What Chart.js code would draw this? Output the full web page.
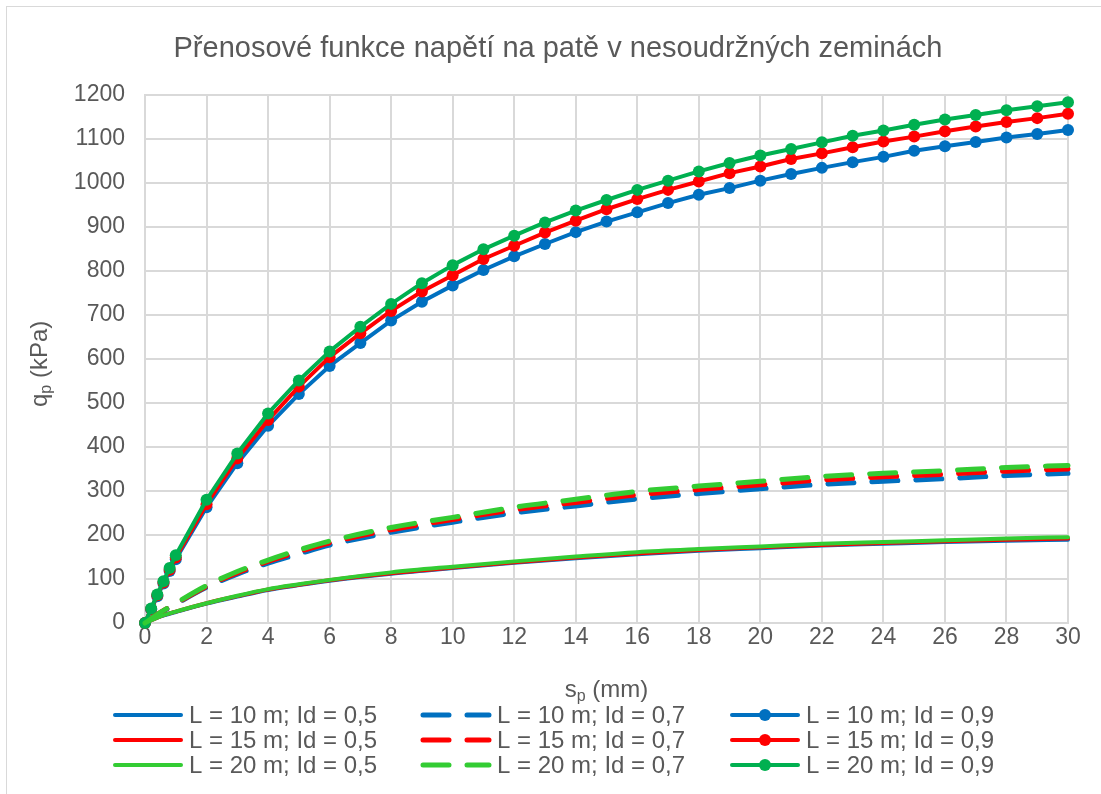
<!DOCTYPE html>
<html>
<head>
<meta charset="utf-8">
<script src="https://cdn.jsdelivr.net/npm/chart.js@4"></script>
<style>
  html, body { margin: 0; padding: 0; background: #fff; overflow: hidden; }
  #frame { position: absolute; left: 6px; top: 6px; width: 1200px; height: 900px; border: 1px solid #d9d9d9; }
  #wrap { position: absolute; left: 0; top: 0; width: 1101px; height: 794px; }
</style>
</head>
<body>
<div id="frame"></div>
<div id="wrap"><canvas id="chart"></canvas></div>
<script>
const titleText = 'Přenosové funkce napětí na patě v nesoudržných zeminách'
const xTitle = ['s', 'p', ' (mm)']
const yTitle = ['q', 'p', ' (kPa)']

// x values of the series with markers (Id = 0,9)
const spMarked = [0, 0.2, 0.4, 0.6, 0.8, 1, 2, 3, 4, 5, 6, 7, 8, 9, 10, 11, 12, 13, 14, 15,
    16, 17, 18, 19, 20, 21, 22, 23, 24, 25, 26, 27, 28, 29, 30]
// x values of the smoothed series (Id = 0,5 and 0,7)
const spSmooth = [0, 0.5, 1, 2, 3, 4, 5, 6, 8, 10, 12, 14, 16, 18, 20, 22, 24, 26, 28, 30]

const L10_05 = [0, 15, 25, 44, 60, 75, 86, 96, 112, 125, 137, 147, 156, 164, 170, 176, 180, 184, 187, 189]
const L15_05 = [0, 15, 26, 45, 61, 76, 87, 97, 113, 126, 138, 149, 158, 166, 172, 177, 182, 186, 189, 192]
const L20_05 = [0, 15, 26, 45, 62, 77, 88, 98, 115, 128, 140, 151, 161, 168, 174, 180, 184, 188, 192, 195]

const L10_07 = [0, 23, 43, 81, 111, 136, 157, 177, 206, 229, 250, 266, 282, 294, 305, 315, 322, 328, 335, 340]
const L15_07 = [0, 24, 44, 83, 114, 140, 162, 182, 212, 235, 257, 274, 291, 303, 314, 325, 332, 338, 345, 350]
const L20_07 = [0, 24, 45, 85, 117, 143, 166, 186, 217, 240, 263, 281, 299, 311, 322, 333, 340, 346, 353, 358]

const L10_09 = [0, 31, 61, 90, 118, 145, 263, 363, 448, 520, 584, 636, 687, 730, 767, 802, 833, 861,
    888, 912, 933, 954, 973, 988, 1005, 1020, 1034, 1047, 1059, 1073, 1083, 1093, 1103, 1111, 1120]
const L15_09 = [0, 32, 63, 92, 121, 149, 270, 374, 461, 537, 604, 658, 709, 753, 790, 827, 857, 887,
    914, 940, 963, 984, 1003, 1022, 1037, 1054, 1067, 1081, 1094, 1105, 1117, 1128, 1138, 1147, 1157]
const L20_09 = [0, 33, 65, 95, 125, 154, 280, 385, 476, 551, 617, 673, 725, 772, 813, 849, 880, 910,
    937, 961, 984, 1005, 1026, 1045, 1062, 1077, 1092, 1107, 1119, 1132, 1144, 1154, 1165, 1174, 1183]

const FONT = '"Liberation Sans", Arial, sans-serif'
const TEXT = '#595959'
const GRID = '#d9d9d9'
const BLUE = '#0070c0'
const RED = '#ff0000'
const LIGHTGREEN = '#33cc33'
const GREEN = '#00b050'

const pts = (xs, ys) => xs.map((x, i) => ({ x: x, y: ys[i] }))

// kind: 'solid' | 'dash' | 'marker'; order: lower is drawn on top
function series(label, xs, ys, color, kind, order) {
    const ds = {
        label: label,
        data: pts(xs, ys),
        borderColor: color,
        backgroundColor: color,
        borderWidth: kind === 'dash' ? 5 : 4,
        borderCapStyle: 'round',
        borderJoinStyle: 'round',
        pointRadius: kind === 'marker' ? 6 : 0,
        pointBorderWidth: 0,
        pointBackgroundColor: color,
        order: order,
        clip: false,
        tension: 0
    }
    if (kind !== 'marker') {
        ds.cubicInterpolationMode = 'monotone'
    }
    if (kind === 'dash') {
        ds.borderDash = [26, 18]
    }
    return ds
}

const datasets = [
    series('L = 10 m; Id = 0,5', spSmooth, L10_05, BLUE, 'solid', 2),
    series('L = 10 m; Id = 0,7', spSmooth, L10_07, BLUE, 'dash', 2),
    series('L = 10 m; Id = 0,9', spMarked, L10_09, BLUE, 'marker', 2),
    series('L = 15 m; Id = 0,5', spSmooth, L15_05, RED, 'solid', 1),
    series('L = 15 m; Id = 0,7', spSmooth, L15_07, RED, 'dash', 1),
    series('L = 15 m; Id = 0,9', spMarked, L15_09, RED, 'marker', 1),
    series('L = 20 m; Id = 0,5', spSmooth, L20_05, LIGHTGREEN, 'solid', 0),
    series('L = 20 m; Id = 0,7', spSmooth, L20_07, LIGHTGREEN, 'dash', 0),
    series('L = 20 m; Id = 0,9', spMarked, L20_09, GREEN, 'marker', 0)
]

// text with a subscript, centred on (x, y)
function drawSubText(ctx, x, y, parts, size) {
    const big = size + 'px ' + FONT
    const small = Math.round(size * 0.68) + 'px ' + FONT
    ctx.font = big
    const w0 = ctx.measureText(parts[0]).width
    const w2 = ctx.measureText(parts[2]).width
    ctx.font = small
    const w1 = ctx.measureText(parts[1]).width
    let left = x - (w0 + w1 + w2) / 2
    ctx.textAlign = 'left'
    ctx.textBaseline = 'middle'
    ctx.font = big
    ctx.fillText(parts[0], left, y)
    ctx.font = small
    ctx.fillText(parts[1], left + w0, y + size * 0.28)
    ctx.font = big
    ctx.fillText(parts[2], left + w0 + w1, y)
}

// axis titles and a three column legend (lines, dashes, lines with markers)
const extras = {
    id: 'extras',
    afterDraw(chart) {
        const ctx = chart.ctx
        const area = chart.chartArea
        ctx.save()
        ctx.fillStyle = TEXT
        drawSubText(ctx, (area.left + area.right) / 2, 690, xTitle, 24)
        ctx.translate(40, (area.top + area.bottom) / 2 + 5)
        ctx.rotate(-Math.PI / 2)
        drawSubText(ctx, 0, 0, yTitle, 24)
        ctx.restore()

        const colX = [113, 421, 730]
        const rowY = [715, 740, 765]
        ctx.save()
        chart.data.datasets.forEach((ds, i) => {
            const x = colX[i % 3]
            const y = rowY[Math.floor(i / 3)]
            ctx.strokeStyle = ds.borderColor
            ctx.lineWidth = ds.borderWidth
            ctx.lineCap = 'round'
            ctx.setLineDash(ds.borderDash || [])
            ctx.beginPath()
            ctx.moveTo(x + 2, y)
            ctx.lineTo(x + 68, y)
            ctx.stroke()
            ctx.setLineDash([])
            if (ds.pointRadius > 0) {
                ctx.fillStyle = ds.pointBackgroundColor
                ctx.beginPath()
                ctx.arc(x + 35, y, ds.pointRadius, 0, Math.PI * 2)
                ctx.fill()
            }
            ctx.fillStyle = TEXT
            ctx.font = '24px ' + FONT
            ctx.textAlign = 'left'
            ctx.textBaseline = 'middle'
            ctx.fillText(ds.label, x + 76, y + 1)
        })
        ctx.restore()
    }
}

new Chart(document.getElementById('chart'), {
    type: 'line',
    data: { datasets: datasets },
    plugins: [extras],
    options: {
        responsive: true,
        maintainAspectRatio: false,
        animation: false,
        layout: { padding: { left: 48, right: 33, top: 0, bottom: 0 } },
        plugins: {
            legend: { display: false },
            tooltip: { enabled: false },
            title: {
                display: true,
                text: titleText,
                color: TEXT,
                font: { family: FONT, size: 29, weight: 'normal' },
                padding: { top: 32, bottom: 28 }
            }
        },
        scales: {
            x: {
                type: 'linear',
                min: 0,
                max: 30,
                ticks: { stepSize: 2, color: TEXT, font: { family: FONT, size: 23 }, padding: 1, maxRotation: 0,
                    callback: (v) => String(v) },
                grid: { color: GRID, lineWidth: 2, drawTicks: false },
                border: { color: GRID, width: 2 },
                afterFit: (scale) => { scale.height = 171 }
            },
            y: {
                min: 0,
                max: 1200,
                ticks: { stepSize: 100, color: TEXT, font: { family: FONT, size: 23 }, padding: 20,
                    callback: (v) => String(v) },
                grid: { color: GRID, lineWidth: 2, drawTicks: false },
                border: { color: GRID, width: 2 },
                afterFit: (scale) => { scale.width = 97 }
            }
        }
    }
})
</script>
</body>
</html>
